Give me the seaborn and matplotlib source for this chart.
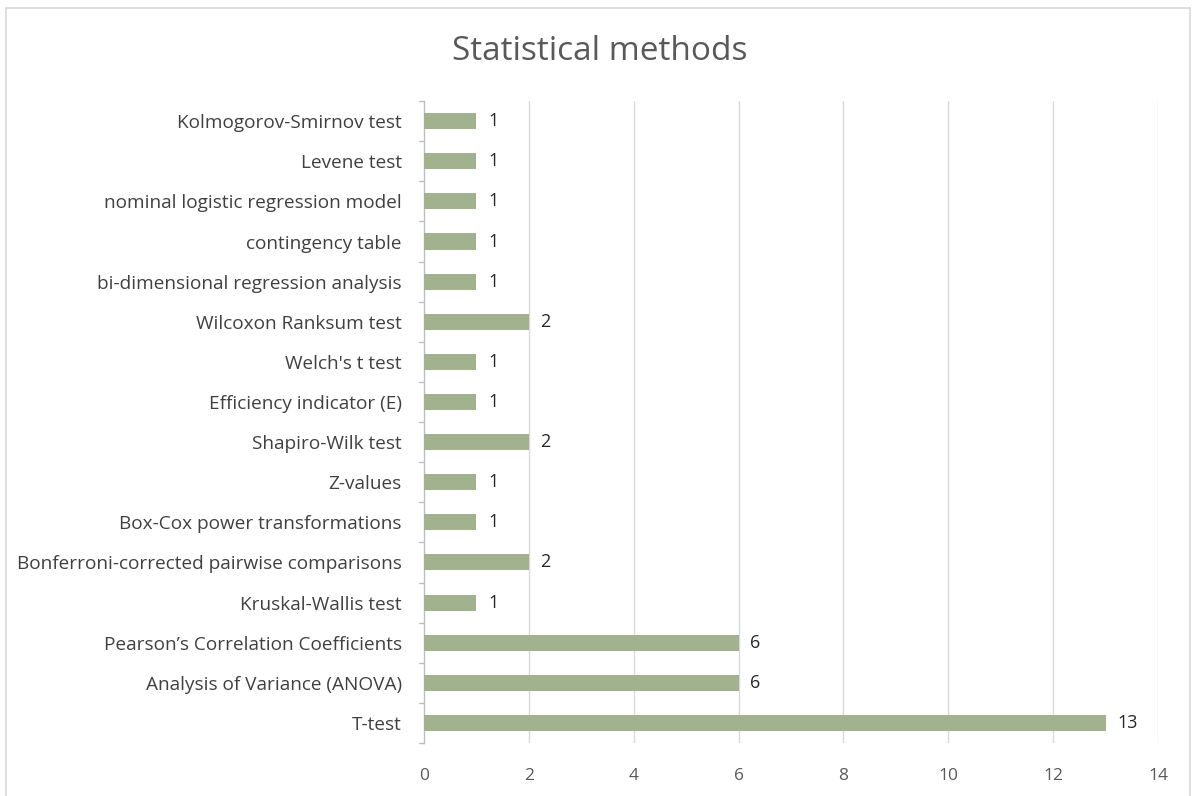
import matplotlib
matplotlib.use("Agg")
import matplotlib.pyplot as plt
import seaborn as sns
import pandas as pd
from matplotlib.lines import Line2D

methods = [
    "Kolmogorov-Smirnov test",
    "Levene test",
    "nominal logistic regression model",
    "contingency table",
    "bi-dimensional regression analysis",
    "Wilcoxon Ranksum test",
    "Welch's t test",
    "Efficiency indicator (E)",
    "Shapiro-Wilk test",
    "Z-values",
    "Box-Cox power transformations",
    "Bonferroni-corrected pairwise comparisons",
    "Kruskal-Wallis test",
    "Pearson\u2019s Correlation Coefficients",
    "Analysis of Variance (ANOVA)",
    "T-test",
]
counts = [1, 1, 1, 1, 1, 2, 1, 1, 2, 1, 1, 2, 1, 6, 6, 13]
x_ticks = [0, 2, 4, 6, 8, 10, 12, 14]

df = pd.DataFrame({"method": methods, "count": counts})

sns.set_theme(style="white")
plt.rcParams["font.family"] = ["Open Sans", "DejaVu Sans"]

fig = plt.figure(figsize=(11.97, 7.96), dpi=100)
ax = fig.add_axes([0.3542, 0.0666, 0.6132, 0.8064])

bar_color = "#a2b18e"
sns.barplot(data=df, x="count", y="method", orient="h", color=bar_color,
            width=0.4, saturation=1, linewidth=0, ax=ax, zorder=3)

ax.set_xlim(0, 14)
ax.set_xticks(x_ticks)
ax.set_xticklabels([str(t) for t in x_ticks], fontsize=12.5, color="#595959")
ax.set_ylim(len(methods) - 0.5, -0.5)
ax.tick_params(axis="y", length=0, labelsize=13.7, labelcolor="#404040", pad=16)
ax.tick_params(axis="x", length=0, pad=18)
ax.set_xlabel("")
ax.set_ylabel("")

# vertical gridlines
for t in x_ticks[1:]:
    ax.axvline(t, color="#d9d9d9", lw=1, zorder=1)

for s in ["top", "right", "bottom"]:
    ax.spines[s].set_visible(False)
ax.spines["left"].set_color("#bfbfbf")
ax.spines["left"].set_linewidth(1)

# small category separator ticks on the left of the y axis
for i in range(len(methods) + 1):
    ax.plot([-0.1, 0], [i - 0.5, i - 0.5], color="#bfbfbf", lw=1,
            clip_on=False, zorder=2)

# value labels
for i, v in enumerate(counts):
    ax.text(v + 0.22, i, str(v), va="center", ha="left", fontsize=13,
            color="#262626")

fig.text(0.501, 0.935, "Statistical methods", ha="center", va="center",
         fontsize=24, color="#595959")

# chart border
fig.add_artist(Line2D([6 / 1197, 6 / 1197], [0, 1 - 8 / 796],
                      transform=fig.transFigure, color="#d9d9d9", lw=1.2))
fig.add_artist(Line2D([6 / 1197, 1190 / 1197], [1 - 8 / 796, 1 - 8 / 796],
                      transform=fig.transFigure, color="#d9d9d9", lw=1.2))
fig.add_artist(Line2D([1190 / 1197, 1190 / 1197], [0, 1 - 8 / 796],
                      transform=fig.transFigure, color="#d9d9d9", lw=1.2))

fig.savefig("out.png", dpi=100)
